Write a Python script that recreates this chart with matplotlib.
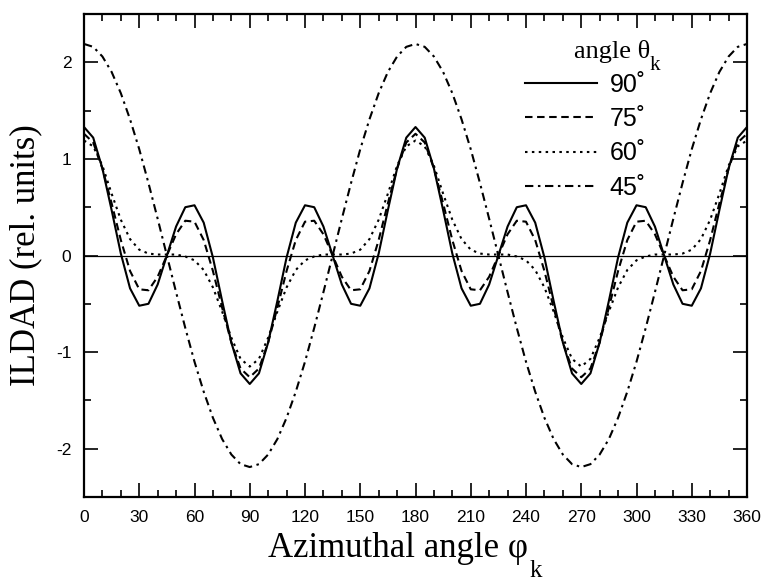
import matplotlib
matplotlib.use('Agg')
import matplotlib.pyplot as plt
from matplotlib.ticker import MultipleLocator

plt.rcParams['axes.unicode_minus'] = False

SANS = 'Liberation Sans'
SERIF = 'Liberation Serif'

# azimuthal angle, degrees
phi = list(range(0, 365, 5))

# theta_k = 90 deg
ildad_90 = [1.33, 1.22, 0.90, 0.47, 0.02, -0.34, -0.52, -0.50, -0.30, 0.00,
            0.30, 0.50, 0.52, 0.34, -0.02, -0.47, -0.90, -1.22, -1.33,
            -1.22, -0.90, -0.47, -0.02, 0.34, 0.52, 0.50, 0.30, 0.00,
            -0.30, -0.50, -0.52, -0.34, 0.02, 0.47, 0.90, 1.22, 1.33,
            1.22, 0.90, 0.47, 0.02, -0.34, -0.52, -0.50, -0.30, 0.00,
            0.30, 0.50, 0.52, 0.34, -0.02, -0.47, -0.90, -1.22, -1.33,
            -1.22, -0.90, -0.47, -0.02, 0.34, 0.52, 0.50, 0.30, 0.00,
            -0.30, -0.50, -0.52, -0.34, 0.02, 0.47, 0.90, 1.22, 1.33]

# theta_k = 75 deg
ildad_75 = [1.26, 1.17, 0.90, 0.54, 0.16, -0.16, -0.35, -0.36, -0.22, 0.00,
            0.22, 0.36, 0.35, 0.16, -0.16, -0.54, -0.90, -1.17, -1.26,
            -1.17, -0.90, -0.54, -0.16, 0.16, 0.35, 0.36, 0.22, 0.00,
            -0.22, -0.36, -0.35, -0.16, 0.16, 0.54, 0.90, 1.17, 1.26,
            1.17, 0.90, 0.54, 0.16, -0.16, -0.35, -0.36, -0.22, 0.00,
            0.22, 0.36, 0.35, 0.16, -0.16, -0.54, -0.90, -1.17, -1.26,
            -1.17, -0.90, -0.54, -0.16, 0.16, 0.35, 0.36, 0.22, 0.00,
            -0.22, -0.36, -0.35, -0.16, 0.16, 0.54, 0.90, 1.17, 1.26]

# theta_k = 60 deg
ildad_60 = [1.19, 1.13, 0.93, 0.64, 0.37, 0.17, 0.06, 0.02, 0.01, 0.01,
            0.01, -0.01, -0.05, -0.15, -0.33, -0.58, -0.85, -1.07, -1.15,
            -1.07, -0.85, -0.58, -0.33, -0.15, -0.05, -0.01, 0.01, 0.01,
            0.01, 0.02, 0.06, 0.17, 0.37, 0.64, 0.93, 1.13, 1.19,
            1.13, 0.93, 0.64, 0.37, 0.17, 0.06, 0.02, 0.01, 0.01,
            0.01, -0.01, -0.05, -0.15, -0.33, -0.58, -0.85, -1.07, -1.15,
            -1.07, -0.85, -0.58, -0.33, -0.15, -0.05, -0.01, 0.01, 0.01,
            0.01, 0.02, 0.06, 0.17, 0.37, 0.64, 0.93, 1.13, 1.19]

# theta_k = 45 deg
ildad_45 = [2.19, 2.16, 2.06, 1.90, 1.68, 1.41, 1.10, 0.75, 0.38, 0.00,
            -0.38, -0.75, -1.10, -1.41, -1.68, -1.90, -2.06, -2.16, -2.19,
            -2.16, -2.06, -1.90, -1.68, -1.41, -1.10, -0.75, -0.38, 0.00,
            0.38, 0.75, 1.10, 1.41, 1.68, 1.90, 2.06, 2.16, 2.19,
            2.16, 2.06, 1.90, 1.68, 1.41, 1.10, 0.75, 0.38, 0.00,
            -0.38, -0.75, -1.10, -1.41, -1.68, -1.90, -2.06, -2.16, -2.19,
            -2.16, -2.06, -1.90, -1.68, -1.41, -1.10, -0.75, -0.38, 0.00,
            0.38, 0.75, 1.10, 1.41, 1.68, 1.90, 2.06, 2.16, 2.19]

series = [
    (ildad_90, '90˚', '-'),
    (ildad_75, '75˚', (0, (3.6, 2.2))),
    (ildad_60, '60˚', (0, (1.2, 2.1))),
    (ildad_45, '45˚', (0, (4.0, 2.2, 1.2, 2.2))),
]

W, H = 765, 582
fig = plt.figure(figsize=(W / 100, H / 100), dpi=100)
ax = fig.add_axes([84 / W, 1 - 497 / H, (747 - 84) / W, (497 - 14) / H])

ax.axhline(0, color='black', lw=0.9, zorder=1)
for ys, lab, ls in series:
    ax.plot(phi, ys, color='black', lw=1.5, linestyle=ls, label=lab)

ax.set_xlim(0, 360)
ax.set_ylim(-2.5, 2.5)
ax.xaxis.set_major_locator(MultipleLocator(30))
ax.xaxis.set_minor_locator(MultipleLocator(10))
ax.yaxis.set_major_locator(MultipleLocator(1))
ax.yaxis.set_minor_locator(MultipleLocator(0.5))
ax.tick_params(which='both', direction='in', top=True, right=True, width=1.2)
ax.tick_params(which='major', length=10, labelsize=12.5, pad=9)
ax.tick_params(which='minor', length=5)
for lbl in ax.get_xticklabels() + ax.get_yticklabels():
    lbl.set_fontfamily(SANS)
for sp in ax.spines.values():
    sp.set_linewidth(1.6)

# x label with a low-set subscript k, as in the original
fig.text(528 / W, 1 - 557 / H, 'Azimuthal angle φ', family=SERIF,
         fontsize=25, ha='right', va='baseline')
fig.text(530 / W, 1 - 577 / H, 'k', family=SERIF, fontsize=18,
         ha='left', va='baseline')
ax.set_ylabel('ILDAD (rel. units)', family=SERIF, fontsize=25, labelpad=10)

leg = ax.legend(loc='upper left', bbox_to_anchor=(512 / W, 1 - 60 / H),
                bbox_transform=fig.transFigure, frameon=False,
                prop={'family': SANS, 'size': 18}, handlelength=2.9,
                handletextpad=0.5, labelspacing=0.42, borderpad=0)
fig.text(650 / W, 1 - 58 / H, 'angle θ', family=SERIF, fontsize=19,
         ha='right', va='baseline')
fig.text(650 / W, 1 - 70 / H, 'k', family=SERIF, fontsize=15,
         ha='left', va='baseline')

fig.savefig('out.png', dpi=100)
